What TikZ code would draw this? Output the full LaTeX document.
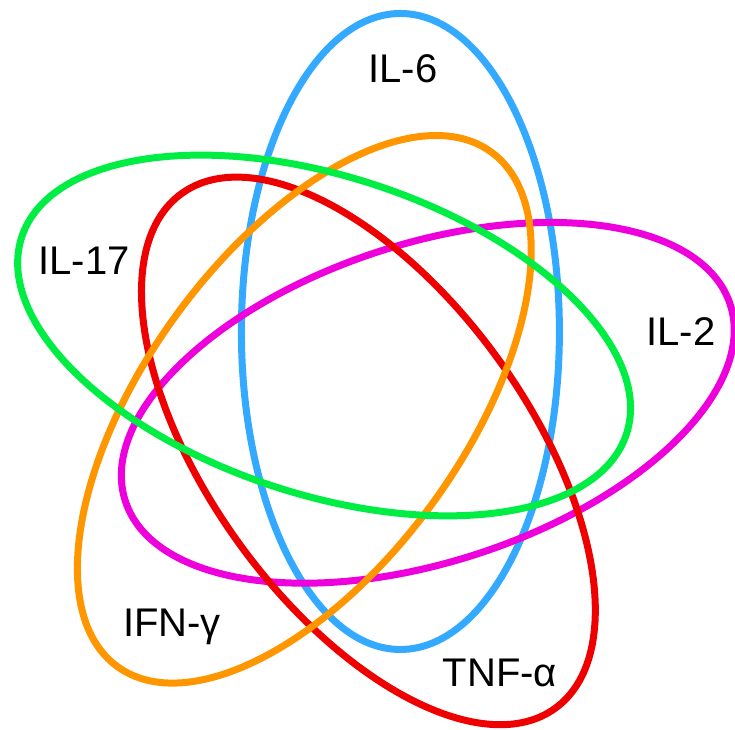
\documentclass[tikz,border=0pt]{standalone}
\usepackage{fontspec}
\setmainfont{Liberation Sans}
\definecolor{il6}{RGB}{51,170,255}
\definecolor{il2}{RGB}{238,0,221}
\definecolor{tnf}{RGB}{238,0,0}
\definecolor{ifn}{RGB}{255,150,0}
\definecolor{il17}{RGB}{0,238,68}
\begin{document}
\begin{tikzpicture}[x=1pt, y=1pt, set/.style={line width=7pt}, every node/.style={font=\fontsize{40}{40}\selectfont, anchor=base}]
        \useasboundingbox (0,0) rectangle (735,729);
        \coordinate (mid) at (365,343);
        \foreach \col [count=\i from 0] in {il6,il2,tnf,ifn,il17}
            \draw[set, \col, shift={(mid)}, rotate={-72*\i}] (57:65) ellipse [x radius=159pt, y radius=318pt];
        \node (lil6) at (403,646) {IL-6};
        \node (lil17) at (84,454) {IL-17};
        \node (lil2) at (681,384) {IL-2};
        \node (lifn) at (172,93) {IFN-γ};
        \node (ltnf) at (500,43) {TNF-α};
    \end{tikzpicture}
\end{document}
